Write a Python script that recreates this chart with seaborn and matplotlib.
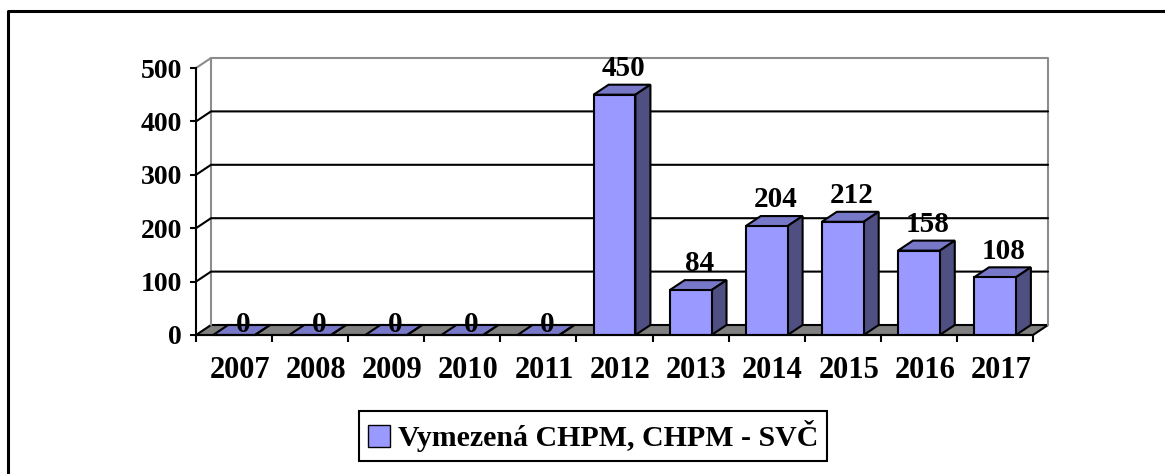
import pandas as pd
import seaborn as sns
import matplotlib.pyplot as plt
from matplotlib.patches import Polygon, Patch
from matplotlib.lines import Line2D
from matplotlib.transforms import ScaledTranslation

# Data
roky = ['2007', '2008', '2009', '2010', '2011', '2012', '2013', '2014', '2015', '2016', '2017']
hodnoty = [0, 0, 0, 0, 0, 450, 84, 204, 212, 158, 108]
nazev_rady = 'Vymezená CHPM, CHPM - SVČ'
osa_y = [0, 100, 200, 300, 400, 500]

df = pd.DataFrame({'rok': roky, 'pocet': hodnoty})

sns.set_style('white')
plt.rcParams['font.family'] = ['Liberation Serif', 'DejaVu Serif']
plt.rcParams['font.weight'] = 'bold'
plt.rcParams['text.color'] = 'black'
plt.rcParams['xtick.color'] = 'black'
plt.rcParams['ytick.color'] = 'black'

barva = '#9999FF'
horni = '#7878C8'
bok = '#4F4F82'
seda = '#8C8C8C'
lw = 1.5

fig = plt.figure(figsize=(11.65, 4.74), dpi=100)
ax = fig.add_axes([196 / 1165, 139 / 474, 837 / 1165, 267 / 474])

sns.barplot(data=df, x='rok', y='pocet', color=barva, saturation=1, width=0.55,
            edgecolor='black', linewidth=lw, ax=ax, zorder=5)
sloupce = list(ax.patches)

ax.set_xlim(-0.5, 10.5)
ax.set_ylim(0, 500)

# hloubka 3D efektu (v jednotkach dat)
dx = 15 / (837 / 11)
dy = 10 / (267 / 500)

# podlaha
ax.add_patch(Polygon([(-0.5, 0), (10.5, 0), (10.5 + dx, dy), (-0.5 + dx, dy)],
                     closed=True, fc='#808080', ec='black', lw=lw, zorder=1, clip_on=False))

# zadni stena
ax.plot([-0.5 + dx, -0.5 + dx], [dy, 500 + dy], color=seda, lw=lw, zorder=1, clip_on=False)
ax.plot([-0.5, -0.5 + dx, 10.5 + dx, 10.5 + dx], [500, 500 + dy, 500 + dy, dy],
        color=seda, lw=lw, zorder=1, clip_on=False)

# mrizka
for v in osa_y[1:-1]:
    ax.plot([-0.5, -0.5 + dx, 10.5 + dx], [v, v + dy, v + dy], color='black',
            lw=lw, zorder=2, clip_on=False)

# 3D sloupce a popisky
for p, val in zip(sloupce, hodnoty):
    x0, w, h = p.get_x(), p.get_width(), p.get_height()
    ax.add_patch(Polygon([(x0, h), (x0 + w, h), (x0 + w + dx, h + dy), (x0 + dx, h + dy)],
                         closed=True, fc=horni, ec='black', lw=lw, zorder=4, clip_on=False))
    ax.add_patch(Polygon([(x0 + w, 0), (x0 + w + dx, dy), (x0 + w + dx, h + dy), (x0 + w, h)],
                         closed=True, fc=bok, ec='black', lw=lw, zorder=4, clip_on=False))
    posun_y = 2 if val else -9
    ax.annotate(f'{val}', (x0 + w / 2 + dx * 0.6, h + dy), xytext=(0, posun_y),
                textcoords='offset points', ha='center', va='bottom', color='black',
                fontsize=21, fontweight='bold', zorder=6, annotation_clip=False)

# osy
sns.despine(ax=ax, top=True, right=True)
for s in ['left', 'bottom']:
    ax.spines[s].set_color('black')
    ax.spines[s].set_linewidth(lw)
    ax.spines[s].set_zorder(6)

ax.set_xlabel('')
ax.set_ylabel('')
ax.set_yticks(osa_y)
ax.set_xticks(range(len(roky)))
ax.set_xticks([i - 0.5 for i in range(len(roky) + 1)], minor=True)
ax.tick_params(axis='y', left=True, direction='out', length=4, width=lw,
               labelsize=20, pad=6, colors='black')
ax.tick_params(axis='x', which='major', bottom=True, length=0, labelsize=22, pad=15,
               colors='black')
ax.tick_params(axis='x', which='minor', bottom=True, direction='out', length=5,
               width=lw, colors='black')
posun = ScaledTranslation(6 / 100, 0, fig.dpi_scale_trans)
for t in ax.get_xticklabels():
    t.set_transform(t.get_transform() + posun)
    t.set_fontweight('bold')
for t in ax.get_yticklabels():
    t.set_fontweight('bold')

# legenda
leg = fig.legend(handles=[Patch(facecolor=barva, edgecolor='black', lw=1)],
                 labels=[nazev_rady], loc='center',
                 bbox_to_anchor=(593 / 1165, 1 - 436 / 474),
                 frameon=True, fancybox=False, edgecolor='black', framealpha=1,
                 prop={'size': 21.5, 'weight': 'bold'}, handlelength=0.75,
                 handleheight=0.75, handletextpad=0.25, borderpad=0.3)
leg.get_frame().set_linewidth(lw)
for t in leg.get_texts():
    t.set_color('black')

# ramecek grafu
fig.add_artist(Line2D([8 / 1165, 8 / 1165, 1.0], [0, 1 - 11 / 474, 1 - 11 / 474],
                      color='black', lw=2.2, transform=fig.transFigure))

fig.savefig('out.png', dpi=100)
